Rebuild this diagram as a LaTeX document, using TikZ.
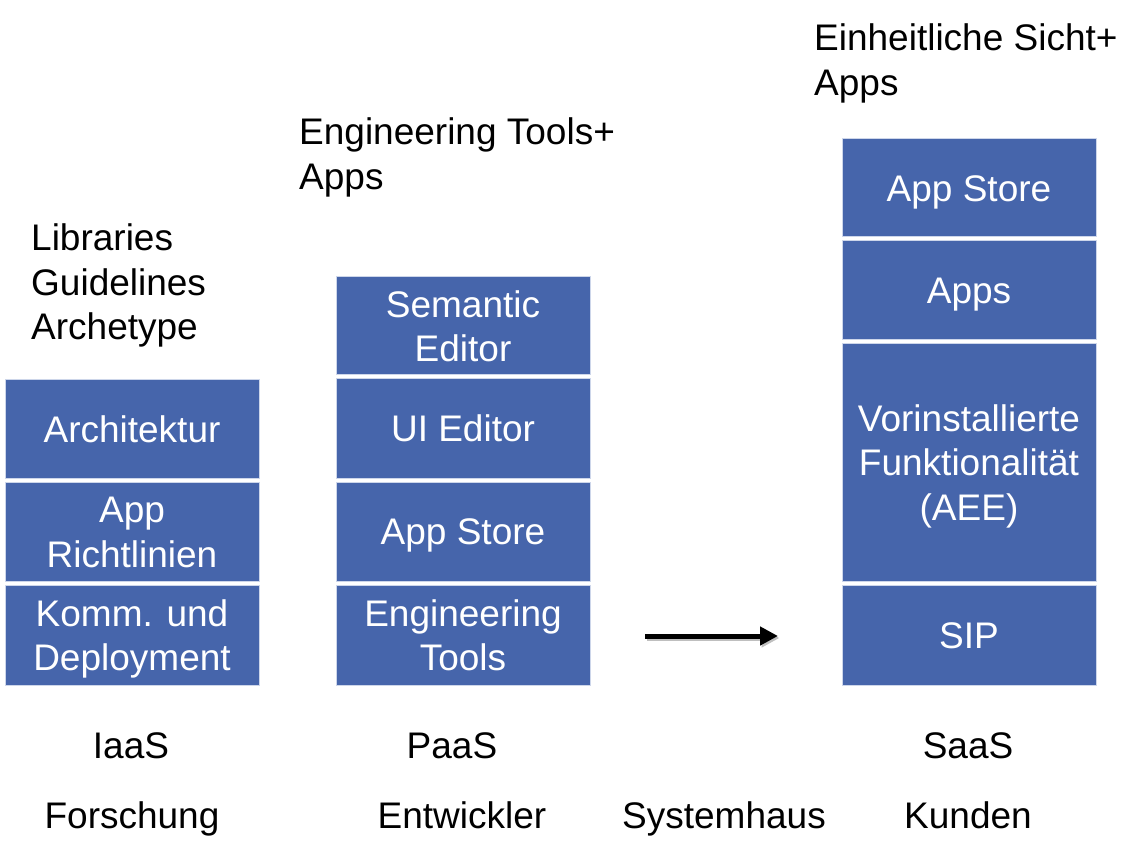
\documentclass[tikz,border=0pt]{standalone}
\usepackage{fontspec}
\setmainfont{Liberation Sans}
\usetikzlibrary{arrows.meta}
\definecolor{boxblue}{RGB}{70,101,171}
\definecolor{boxedge}{RGB}{205,214,234}
\newcommand\ls{\rule[-0.21em]{0pt}{1.14em}}
\begin{document}
\begin{tikzpicture}[x=1pt,y=-1pt,
  every node/.style={font=\fontsize{37}{44.5}\selectfont, inner sep=0pt},
  layer/.style={fill=boxblue, draw=boxedge, line width=1pt, text=white, align=center, minimum width=254pt},
  label/.style={text=black, align=left, anchor=west},
  caption/.style={text=black}]
\useasboundingbox (0,0) rectangle (1143,858);
% column 1
\node[layer, minimum height=98pt] (a1) at (132,429) {\ls Architektur};
\node[layer, minimum height=99pt] (a2) at (132,531.5) {\ls App\\\ls Richtlinien};
\node[layer, minimum height=100pt] (a3) at (132,635) {\ls Komm. und\\\ls Deployment};
% column 2
\node[layer, minimum height=98pt] (b1) at (463,326) {\ls Semantic\\\ls Editor};
\node[layer, minimum height=99pt] (b2) at (463,428.5) {\ls UI Editor};
\node[layer, minimum height=99pt] (b3) at (463,531.5) {\ls App Store};
\node[layer, minimum height=100pt] (b4) at (463,635) {\ls Engineering\\\ls Tools};
% column 3
\node[layer, minimum height=98pt] (c1) at (969,188) {\ls App Store};
\node[layer, minimum height=99pt] (c2) at (969,290.5) {\ls Apps};
\node[layer, minimum height=237pt] (c3) at (969,462.5) {\ls Vorinstallierte\\\ls Funktionalität\\\ls (AEE)};
\node[layer, minimum height=100pt] (c4) at (969,635) {\ls SIP};
% headings
\node[label] (h1) at (31,282) {\ls Libraries\\\ls Guidelines\\\ls Archetype};
\node[label] (h2) at (299,153.5) {\ls Engineering Tools+\\\ls Apps};
\node[label] (h3) at (814,59.5) {\ls Einheitliche Sicht+\\\ls Apps};
% captions
\node[caption] (k1) at (131,745) {\ls IaaS};
\node[caption] (k2) at (452,745) {\ls PaaS};
\node[caption] (k3) at (968,745) {\ls SaaS};
\node[caption] (r1) at (132,815) {\ls Forschung};
\node[caption] (r2) at (462,815) {\ls Entwickler};
\node[caption] (r3) at (724,815) {\ls Systemhaus};
\node[caption] (r4) at (968,815) {\ls Kunden};
% arrow
\coordinate (s) at (645,636);
\coordinate (e) at (778,636);
\draw[line width=5pt, black!25, -{Triangle[length=18pt,width=18pt]}] ([shift={(1.5,2)}]s) -- ([shift={(1.5,2)}]e);
\draw[line width=5pt, -{Triangle[length=18pt,width=18pt]}] (s) -- (e);
\end{tikzpicture}
\end{document}
